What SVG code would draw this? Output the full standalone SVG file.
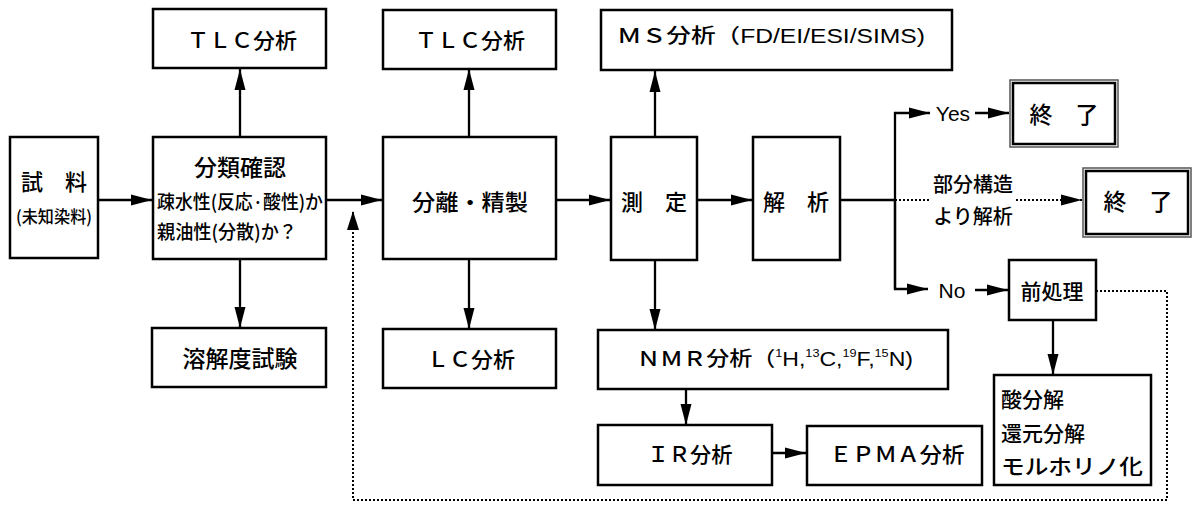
<svg xmlns="http://www.w3.org/2000/svg" width="1195" height="507" viewBox="0 0 1195 507">
<style>
.box{fill:#fff;stroke:#000;stroke-width:2.5}
.ln{fill:none;stroke:#000;stroke-width:2.3}
.dot{fill:none;stroke:#000;stroke-width:2;stroke-dasharray:2 2}
.t{font-family:"Liberation Sans","Noto Sans CJK JP",sans-serif;font-weight:500;fill:#000;text-anchor:middle;dominant-baseline:central}
.j{font-family:"Noto Sans CJK JP",sans-serif;font-weight:500;fill:#000;text-anchor:middle;dominant-baseline:central}
.l{text-anchor:start}
.outer{fill:#fff;stroke:#555;stroke-width:1.5}
.inner{fill:none;stroke:#000;stroke-width:2.5}
</style>
<defs>
<marker id="ah" markerUnits="userSpaceOnUse" markerWidth="22" markerHeight="14" refX="21" refY="7" orient="auto">
<path d="M0,1.5 L21,7 L0,12.5 z" fill="#000"/>
</marker>
</defs>
<rect width="1195" height="507" fill="#fff"/>
<g id="connectors">
<line class="ln" x1="98" y1="200" x2="152" y2="200" marker-end="url(#ah)"/>
<line class="ln" x1="240" y1="137" x2="240" y2="69" marker-end="url(#ah)"/>
<line class="ln" x1="240" y1="259" x2="240" y2="328" marker-end="url(#ah)"/>
<line class="ln" x1="326" y1="200" x2="382" y2="200" marker-end="url(#ah)"/>
<line class="ln" x1="469" y1="137" x2="469" y2="69" marker-end="url(#ah)"/>
<line class="ln" x1="469" y1="259" x2="469" y2="329" marker-end="url(#ah)"/>
<line class="ln" x1="556" y1="200" x2="610" y2="200" marker-end="url(#ah)"/>
<line class="ln" x1="655" y1="137" x2="655" y2="71" marker-end="url(#ah)"/>
<line class="ln" x1="655" y1="260" x2="655" y2="330" marker-end="url(#ah)"/>
<line class="ln" x1="697" y1="200" x2="752" y2="200" marker-end="url(#ah)"/>
<line class="ln" x1="686" y1="389" x2="686" y2="425" marker-end="url(#ah)"/>
<line class="ln" x1="772" y1="453" x2="806" y2="453" marker-end="url(#ah)"/>
<line class="ln" x1="840" y1="200" x2="895" y2="200"/>
<polyline class="ln" points="895,289 895,113 930,113" marker-end="url(#ah)"/>
<line class="ln" x1="975" y1="113" x2="1009" y2="113" marker-end="url(#ah)"/>
<polyline class="ln" points="895,200 895,289 928,289" marker-end="url(#ah)"/>
<line class="ln" x1="975" y1="290" x2="1008" y2="290" marker-end="url(#ah)"/>
<line class="dot" x1="895" y1="200" x2="930" y2="200"/>
<line class="dot" x1="1016" y1="200" x2="1082" y2="200" marker-end="url(#ah)"/>
<line class="ln" x1="1053" y1="320" x2="1053" y2="375" marker-end="url(#ah)"/>
<polyline class="dot" points="1096,291 1167,291 1167,500 353,500 353,212"/>
<path d="M353,211 L347,230 L359,230 z" fill="#000"/>
</g>
<g id="n-shiryo"><rect class="box" x="10" y="137" width="88" height="121"/>
<text class="j" x="54" y="180" font-size="22">試　料</text>
<text class="j" x="54" y="215" font-size="17" textLength="76" lengthAdjust="spacingAndGlyphs">(未知染料)</text></g>
<g id="n-bunrui"><rect class="box" x="153" y="137" width="173" height="122"/>
<text class="j" x="240" y="166" font-size="23">分類確認</text>
<text class="j l" x="157" y="200" font-size="19" textLength="166" lengthAdjust="spacingAndGlyphs">疎水性(反応·酸性)か</text>
<text class="j l" x="157" y="230" font-size="19" textLength="140" lengthAdjust="spacingAndGlyphs">親油性(分散)か？</text></g>
<g id="n-tlc1"><rect class="box" x="153" y="9" width="173" height="59"/>
<text class="j" x="242" y="39" font-size="21" textLength="110" lengthAdjust="spacingAndGlyphs">ＴＬＣ分析</text></g>
<g id="n-yokai"><rect class="box" x="152" y="328" width="174" height="59"/>
<text class="j" x="240" y="357" font-size="23">溶解度試験</text></g>
<g id="n-bunri"><rect class="box" x="383" y="137" width="173" height="122"/>
<text class="j" x="470" y="200" font-size="22" textLength="116" lengthAdjust="spacingAndGlyphs">分離・精製</text></g>
<g id="n-tlc2"><rect class="box" x="383" y="10" width="173" height="59"/>
<text class="j" x="470" y="39" font-size="21" textLength="110" lengthAdjust="spacingAndGlyphs">ＴＬＣ分析</text></g>
<g id="n-lc"><rect class="box" x="383" y="329" width="173" height="59"/>
<text class="j" x="471" y="358" font-size="21" textLength="88" lengthAdjust="spacingAndGlyphs">ＬＣ分析</text></g>
<g id="n-sokutei"><rect class="box" x="611" y="137" width="86" height="123"/>
<text class="j" x="654" y="200" font-size="22">測　定</text></g>
<g id="n-ms"><rect class="box" x="601" y="10" width="351" height="60"/>
<text class="t" x="771" y="36" font-size="20" textLength="308" lengthAdjust="spacingAndGlyphs">ＭＳ分析（FD/EI/ESI/SIMS)</text></g>
<g id="n-nmr"><rect class="box" x="598" y="330" width="350" height="59"/>
<text class="t" x="775" y="359" font-size="20" textLength="276" lengthAdjust="spacingAndGlyphs">ＮＭＲ分析（<tspan font-size="11" baseline-shift="super">1</tspan>H,<tspan font-size="11" baseline-shift="super">13</tspan>C,<tspan font-size="11" baseline-shift="super">19</tspan>F,<tspan font-size="11" baseline-shift="super">15</tspan>N)</text></g>
<g id="n-ir"><rect class="box" x="598" y="425" width="174" height="60"/>
<text class="j" x="690" y="453" font-size="21" textLength="85" lengthAdjust="spacingAndGlyphs">ＩＲ分析</text></g>
<g id="n-epma"><rect class="box" x="807" y="426" width="175" height="59"/>
<text class="j" x="897" y="453" font-size="21" textLength="135" lengthAdjust="spacingAndGlyphs">ＥＰＭＡ分析</text></g>
<g id="n-kaiseki"><rect class="box" x="753" y="137" width="87" height="123"/>
<text class="j" x="796" y="200" font-size="22">解　析</text></g>
<g id="n-yes"><text class="t" x="953" y="113" font-size="21">Yes</text></g>
<g id="n-end1"><rect class="outer" x="1010" y="80" width="108" height="67"/>
<rect class="inner" x="1013" y="83" width="102" height="61"/>
<text class="j" x="1064" y="113" font-size="23">終　了</text></g>
<g id="n-bubun"><text class="j" x="973" y="183" font-size="20">部分構造</text>
<text class="j" x="973" y="215" font-size="20">より解析</text></g>
<g id="n-end2"><rect class="outer" x="1083" y="168" width="108" height="69"/>
<rect class="inner" x="1086" y="171" width="102" height="63"/>
<text class="j" x="1138" y="200" font-size="23">終　了</text></g>
<g id="n-no"><text class="t" x="952" y="290" font-size="21">No</text></g>
<g id="n-maeshori"><rect class="box" x="1009" y="260" width="87" height="60"/>
<text class="j" x="1052" y="290" font-size="21">前処理</text></g>
<g id="n-bunkai"><rect class="box" x="994" y="375" width="157" height="110"/>
<text class="j l" x="1001" y="398" font-size="21">酸分解</text>
<text class="j l" x="1001" y="432" font-size="21">還元分解</text>
<text class="j l" x="1001" y="465" font-size="21" textLength="142" lengthAdjust="spacingAndGlyphs">モルホリノ化</text></g>
</svg>
